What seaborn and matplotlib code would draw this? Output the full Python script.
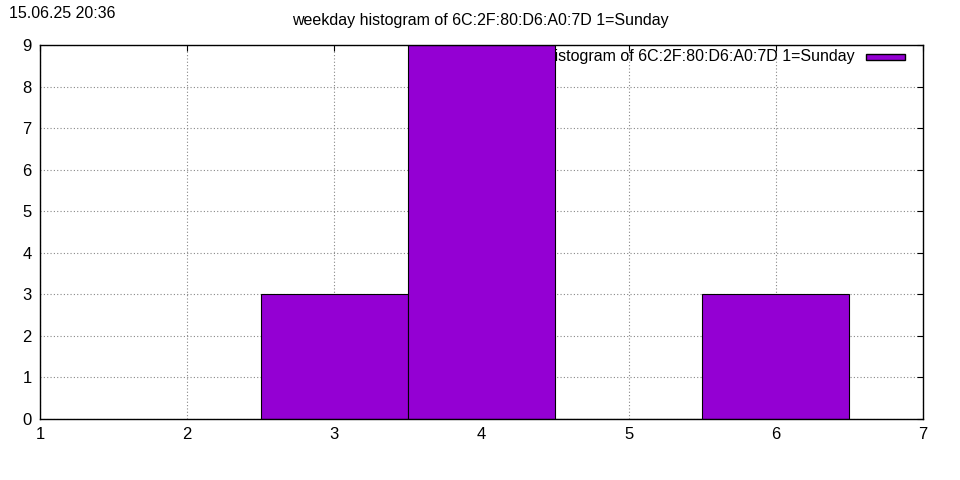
import seaborn as sns
import matplotlib.pyplot as plt
from matplotlib.patches import Rectangle

# weekday histogram data (1=Sunday)
days = [3, 4, 6]
counts = [3, 9, 3]
x_ticks = [1, 2, 3, 4, 5, 6, 7]
y_ticks = list(range(0, 10))
title = "weekday histogram of 6C:2F:80:D6:A0:7D 1=Sunday"
stamp = "15.06.25 20:36"
bar_color = "#9400D3"

sns.set_style("white")
plt.rcParams['font.family'] = ['Liberation Sans', 'DejaVu Sans']
plt.rcParams['text.color'] = 'black'
plt.rcParams['xtick.color'] = 'black'
plt.rcParams['ytick.color'] = 'black'

fig = plt.figure(figsize=(9.6, 4.8), dpi=100)
ax = fig.add_axes([40 / 960, 1 - 419 / 480, 883 / 960, 374 / 480])

# legend label sits behind the bars, like gnuplot does it
ax.text((855 - 40) / 883, 1 - 11 / 374, title, transform=ax.transAxes,
        ha='right', va='center', fontsize=11.5, zorder=1)
ax.add_patch(Rectangle((826 / 883, 1 - 15 / 374), 39 / 883, 6 / 374,
                       transform=ax.transAxes, facecolor=bar_color,
                       edgecolor='black', linewidth=1, zorder=4))

sns.histplot(x=days, weights=counts, discrete=True, color=bar_color,
             edgecolor='black', linewidth=0.8, alpha=1, ax=ax, zorder=3)

ax.set_xlim(1, 7)
ax.set_ylim(0, 9)
ax.set_xticks(x_ticks)
ax.set_yticks(y_ticks)
ax.set_xlabel('')
ax.set_ylabel('')
ax.grid(True, color='#888888', linestyle=(0, (1, 2)), linewidth=0.8, zorder=0)
ax.set_axisbelow(True)
ax.tick_params(direction='in', length=4, labelsize=12, top=True, right=True,
               pad=6, color='black', labelcolor='black')
for s in ax.spines.values():
    s.set_color('black')
    s.set_linewidth(1)
    s.set_zorder(5)

fig.text(9 / 960, 1 - 13 / 480, stamp, ha='left', va='center', fontsize=11.5)
fig.text(480 / 960, 1 - 21 / 480, title, ha='center', va='center', fontsize=11.5)

fig.savefig('out.png', dpi=100)
